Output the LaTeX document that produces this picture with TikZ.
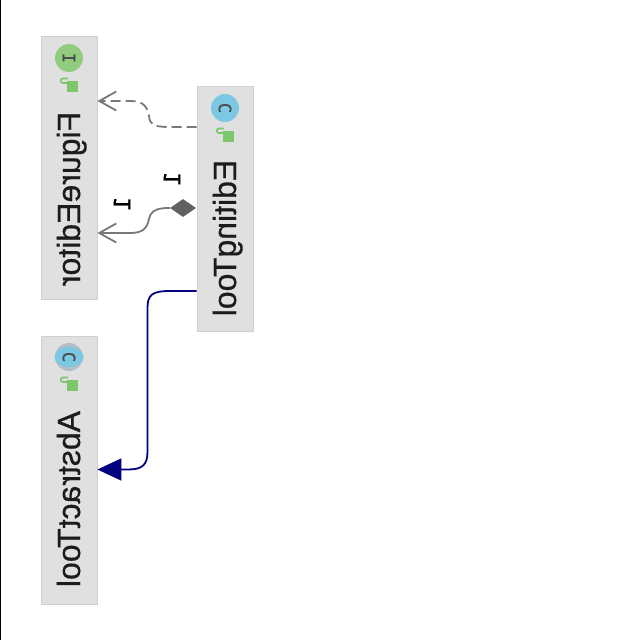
\documentclass[tikz,border=0pt]{standalone}
\usepackage{fontspec}
\setmainfont{Liberation Sans}
\newfontfamily\titlefont[FakeBold=0.6]{Liberation Sans}
\newfontfamily\markfont[FakeBold=0.5]{DejaVu Sans}
\newfontfamily\iconfont[FakeBold=0.8]{DejaVu Sans Mono}
\usetikzlibrary{arrows.meta,shapes.geometric}
\definecolor{boxfill}{HTML}{E0E0E0}
\definecolor{boxedge}{HTML}{D0D0D0}
\definecolor{iconI}{HTML}{92CC7E}
\definecolor{iconC}{HTML}{7CC8E2}
\definecolor{iconBand}{HTML}{B4BEC6}
\definecolor{iconLock}{HTML}{7DC66B}
\definecolor{navy}{HTML}{000080}
\definecolor{linkgrey}{HTML}{787878}
\definecolor{inkdark}{HTML}{1C1C1C}
\tikzset{
  classbox/.style={draw=boxedge,fill=boxfill,line width=0.8pt,inner sep=0pt,minimum width=56pt},
  flipped/.style={cm={0,-1,-1,0,(0,0)},inner sep=0pt},
  title/.style={flipped,font=\titlefont\fontsize{32}{32}\selectfont,text=inkdark,anchor=base},
  badge/.style={circle,minimum size=28pt,inner sep=0pt},
  glyph/.style={flipped,font=\iconfont\fontsize{17}{17}\selectfont,text=inkdark!70!iconBand},
  mult/.style={flipped,font=\markfont\fontsize{23}{23}\selectfont,text=black},
  lockbox/.style={fill=iconLock,draw=none,minimum width=11pt,minimum height=11pt,inner sep=0pt},
  lockhook/.style={draw=iconLock,line width=1.6pt},
  dep/.style={draw=linkgrey,line width=1.8pt,dash pattern=on 10pt off 5pt},
  barb/.style={-{Straight Barb[length=17pt,width=19pt,line width=1.8pt]}},
  assoc/.style={draw=linkgrey,line width=1.8pt},
  inherit/.style={draw=navy,line width=1.8pt,-{Triangle[length=24pt,width=22pt,fill=navy]}},
  ownerdiamond/.style={diamond,fill=black!62,inner sep=0pt,minimum width=26pt,minimum height=18pt,aspect=1.4},
}
\begin{document}
\begin{tikzpicture}[x=1pt,y=-1pt]
\useasboundingbox (0,0) rectangle (640,640);
\fill[white] (0,0) rectangle (640,640);
\fill[black] (0,0) rectangle (1.2,640);

% class boxes
\node[classbox,minimum height=263pt] (figure) at (69,167.5) {};
\node[classbox,minimum height=245pt] (editing) at (225,208.5) {};
\node[classbox,minimum height=268pt] (abstract) at (69,470) {};

% badges
\node[badge,fill=iconI] (figI) at (69,58) {};
\node[glyph] (figIg) at (69,58) {I};
\node[badge,fill=iconC] (edC) at (225,108) {};
\node[glyph] (edCg) at (225,108) {C};
\node[badge,fill=iconBand] (abBand) at (69,357) {};
\node[ellipse,fill=iconC,minimum width=29pt,minimum height=20pt,inner sep=0pt] (abC) at (69,357) {};
\node[glyph] (abCg) at (69,357) {C};

% visibility marks
\node[lockbox] (figL) at (72,86.5) {};
\draw[lockhook] (68,78.5) -- (63,78.5) .. controls (60,78.5) and (60,83) .. (63,83) -- (67,83);
\node[lockbox] (edL) at (228,136.5) {};
\draw[lockhook] (224,128.5) -- (219,128.5) .. controls (216,128.5) and (216,133) .. (219,133) -- (223,133);
\node[lockbox] (abL) at (72,385.5) {};
\draw[lockhook] (68,377.5) -- (63,377.5) .. controls (60,377.5) and (60,382) .. (63,382) -- (67,382);

% titles
\node[title] (figT) at (80,199) {FigureEditor};
\node[title] (edT) at (236,238) {EditingTool};
\node[title] (abT) at (80,499) {AbstractTool};

% connectors
\draw[dep,barb] (editing.west |- 0,127) -- (170,127)
  .. controls (152,127) and (150,124) .. (149,116)
  .. controls (147,106) and (143,101) .. (130,101)
  -- (figure.east |- 0,101);
\node[ownerdiamond] (own) at (183,208) {};
\draw[assoc,barb] (own.west)
  .. controls (160,208) and (151,209) .. (149,219)
  .. controls (147,229) and (142,233) .. (130,233)
  -- (figure.east |- 0,233);
\draw[inherit] (editing.west |- 0,291) -- (170,291)
  .. controls (152,291) and (147.5,295) .. (147.5,308)
  -- (147.5,452)
  .. controls (147.5,465) and (142,469.5) .. (128,469.5)
  -- (abstract.east |- 0,469.5);

% multiplicities
\node[mult] (m1) at (172,179) {1};
\node[mult] (m2) at (122,204) {1};
\end{tikzpicture}
\end{document}
